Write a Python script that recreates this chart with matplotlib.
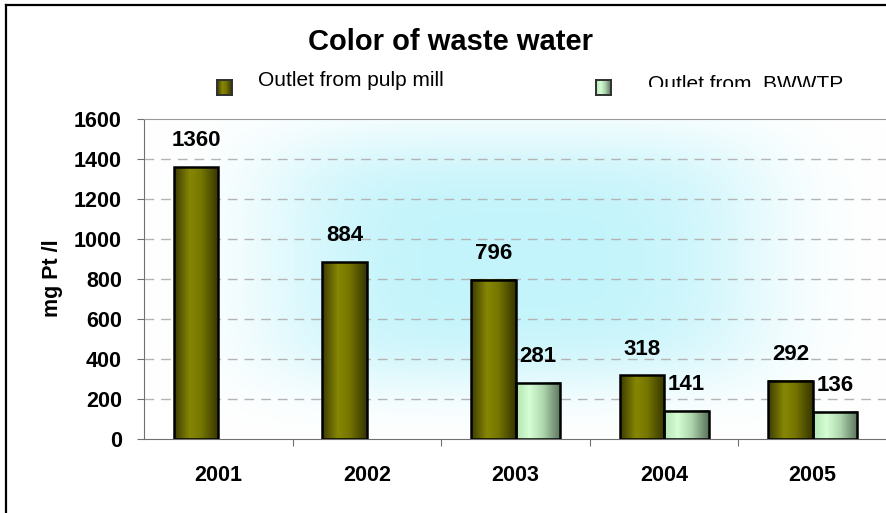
import numpy as np
import matplotlib
matplotlib.use("Agg")
import matplotlib.pyplot as plt
from matplotlib.colors import LinearSegmentedColormap
from matplotlib.patches import Rectangle
from matplotlib.lines import Line2D
from matplotlib.transforms import Bbox

plt.rcParams['font.family'] = ['Liberation Sans', 'DejaVu Sans']

# data
years = ['2001', '2002', '2003', '2004', '2005']
pulp_mill = [1360, 884, 796, 318, 292]
bwwtp = [None, None, 281, 141, 136]
series_names = ['Outlet from pulp mill', 'Outlet from  BWWTP']

W, H = 887, 513
fig = plt.figure(figsize=(W / 100, H / 100), dpi=100)
fig.patch.set_facecolor('white')

# plot area in pixels: x 144..887, y 119..439 (from top)
ax = fig.add_axes([144 / W, (H - 439) / H, (W - 144) / W, 320 / H])
ax.set_xlim(-0.5, 4.5)
ax.set_ylim(0, 1600)

# soft cyan glow behind the bars
gx, gy = np.meshgrid(np.linspace(0, 1, 300), np.linspace(0, 1, 200))
glow = np.exp(-(((gx - 0.5) / 0.34) ** 4 + ((gy - 0.56) / 0.40) ** 4))
bg_cmap = LinearSegmentedColormap.from_list('bg', ['#ffffff', '#c4f4fb'])
ax.imshow(glow, cmap=bg_cmap, extent=[0, 1, 0, 1], transform=ax.transAxes,
          origin='lower', aspect='auto', zorder=0, vmin=0, vmax=1,
          interpolation='bilinear')

# grid
for v in range(200, 1600, 200):
    ax.axhline(v, color='#b4b4b4', lw=1, ls=(0, (7, 5)), zorder=1)

pulp_cmap = LinearSegmentedColormap.from_list(
    'pulp', [(0, '#3c3c02'), (0.35, '#868604'), (0.6, '#777700'), (1, '#363600')])
bw_cmap = LinearSegmentedColormap.from_list(
    'bw', [(0, '#b4e4b4'), (0.3, '#d4fed4'), (0.6, '#b0d8b0'), (1, '#5c745c')])
grad = np.linspace(0, 1, 64).reshape(1, -1)

bar_w = 0.3


def gradient_bar(x0, h, cmap):
    ax.imshow(grad, cmap=cmap, extent=[x0, x0 + bar_w, 0, h], origin='lower',
              aspect='auto', zorder=2, interpolation='bilinear')
    ax.add_patch(Rectangle((x0, 0), bar_w, h, fill=False, ec='black', lw=1.8, zorder=3))


for i, (p, b) in enumerate(zip(pulp_mill, bwwtp)):
    gradient_bar(i - bar_w, p, pulp_cmap)
    ax.annotate(str(p), (i - bar_w / 2, p), xytext=(0, 19), textcoords='offset points',
                ha='center', va='center', fontsize=16, fontweight='bold', zorder=4)
    if b is not None:
        gradient_bar(i, b, bw_cmap)
        ax.annotate(str(b), (i + bar_w / 2, b), xytext=(0, 19), textcoords='offset points',
                    ha='center', va='center', fontsize=16, fontweight='bold', zorder=4)

ax.set_xlim(-0.5, 4.5)
ax.set_ylim(0, 1600)

# axes styling
ax.spines['right'].set_visible(False)
ax.spines['top'].set_color('#9a9a9a')
ax.spines['left'].set_color('#707070')
ax.spines['bottom'].set_color('#707070')
ax.set_yticks(range(0, 1601, 200))
ax.tick_params(axis='y', direction='out', length=5, color='#707070', pad=11,
               labelsize=15.5)
for lab in ax.get_yticklabels():
    lab.set_fontweight('bold')

ax.set_xticks([0.5, 1.5, 2.5, 3.5])
ax.set_xticklabels([])
ax.set_xticks(range(len(years)), minor=True)
ax.set_xticklabels(years, minor=True, fontsize=15.5, fontweight='bold')
ax.tick_params(axis='x', which='major', direction='out', length=5, color='#707070')
ax.tick_params(axis='x', which='minor', length=0, pad=19)

fig.text(53 / W, 1 - 278 / H, 'mg Pt /l', rotation=90, ha='center', va='center',
         fontsize=15.5, fontweight='bold')
fig.text(450 / W, 1 - 42 / H, 'Color of waste water', ha='center', va='center',
         fontsize=21, fontweight='bold')

# legend, drawn by hand
def legend_key(x, y, cmap):
    kax = fig.add_axes([x / W, 1 - (y + 15) / H, 15 / W, 15 / H])
    kax.imshow(grad, cmap=cmap, aspect='auto', extent=[0, 1, 0, 1])
    kax.set_xticks([])
    kax.set_yticks([])
    for sp in kax.spines.values():
        sp.set_color('#303030')
        sp.set_linewidth(1.4)


legend_key(217, 80, pulp_cmap)
legend_key(596, 80, bw_cmap)
fig.text(258 / W, 1 - 80 / H, series_names[0], ha='left', va='center', fontsize=15)
t2 = fig.text(648 / W, 1 - 84 / H, series_names[1], ha='left', va='center', fontsize=15)
t2.set_clip_box(Bbox([[0, H - 87], [W, H]]))
t2.set_clip_on(True)

# frame of the chart area (only left and top edges are visible)
fig.add_artist(Line2D([6 / W, 6 / W], [0, 1 - 5 / H], color='black', lw=1.6))
fig.add_artist(Line2D([6 / W, 1], [1 - 5 / H, 1 - 5 / H], color='black', lw=1.6))

fig.savefig('out.png', dpi=100)
